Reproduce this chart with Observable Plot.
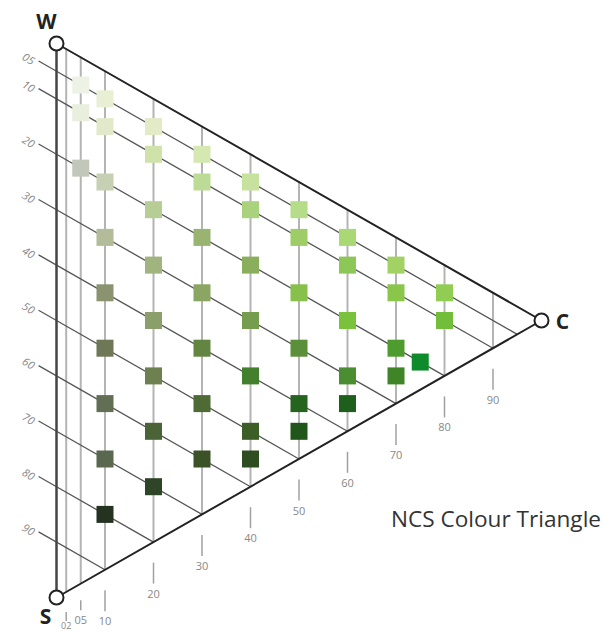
<!DOCTYPE html>
<html>
<head>
<meta charset="utf-8">
<script src="https://cdn.jsdelivr.net/npm/d3@7"></script>
<script src="https://cdn.jsdelivr.net/npm/@observablehq/plot@0.6"></script>
<style>
  html, body { margin: 0; padding: 0; background: #fff; }
  #wrap { position: relative; width: 604px; height: 632px; overflow: hidden; }
  #caption { position: absolute; left: 391px; top: 503px; font-family: "Open Sans", sans-serif; font-size: 22.6px; color: #333; white-space: nowrap; line-height: normal; }
</style>
</head>
<body>
<div id="wrap"><div id="caption">NCS Colour Triangle</div></div>
<script>
// Chromaticness grid lines (vertical) and their labels
const chromaLines = [2, 5, 10, 20, 30, 40, 50, 60, 70, 80, 90];
const chromaLabels = ["02", "05", "10", "20", "30", "40", "50", "60", "70", "80", "90"];
// Blackness grid lines (diagonal) and their labels
const blackLines = [5, 10, 20, 30, 40, 50, 60, 70, 80, 90];
const blackLabels = ["05", "10", "20", "30", "40", "50", "60", "70", "80", "90"];
// Triangle vertices
const vertexNames = ["W", "S", "C"];
const vertexChroma = [0, 0, 100];
const vertexBlack = [0, 100, 0];
// Colour samples: chromaticness, blackness, colour
const swatchChroma = [
  5, 5, 5,
  10, 10, 10, 10, 10, 10, 10, 10, 10,
  20, 20, 20, 20, 20, 20, 20, 20,
  30, 30, 30, 30, 30, 30, 30,
  40, 40, 40, 40, 40, 40, 40,
  50, 50, 50, 50, 50, 50,
  60, 60, 60, 60, 60,
  70, 70, 70, 70,
  75,
  80, 80
];
const swatchBlack = [
  5, 10, 20,
  5, 10, 20, 30, 40, 50, 60, 70, 80,
  5, 10, 20, 30, 40, 50, 60, 70,
  5, 10, 20, 30, 40, 50, 60,
  5, 10, 20, 30, 40, 50, 55,
  5, 10, 20, 30, 40, 45,
  5, 10, 20, 30, 35,
  5, 10, 20, 25,
  20,
  5, 10
];
const swatchColor = [
  "#eef2e4", "#e9eedd", "#c2c7ba",
  "#e9efd3", "#e2e9cb", "#c6d0b2", "#b3bc98", "#8a9270", "#6f7856", "#636f55", "#59684f", "#243220",
  "#e2ebc6", "#cfe2aa", "#b6cd96", "#9fb47e", "#8a9f6a", "#6c814f", "#4b6437", "#2f4527",
  "#d5e8b2", "#bcdb94", "#98b470", "#8aa662", "#628542", "#4e6b35", "#3a5226",
  "#c6e29c", "#aad27c", "#8aaf5c", "#769d4d", "#42802e", "#3c5e27", "#2e4d21",
  "#b5dc88", "#9ecd68", "#88c04c", "#5b8f3a", "#25641f", "#205619",
  "#a9d874", "#8dc758", "#7ac23c", "#4b8d31", "#1e5f1c",
  "#a2d264", "#89c64a", "#4e9c2e", "#3f8427",
  "#0f8b2b",
  "#91cd52", "#72bd3a"
];

// geometry: x = chromaticness, y = blackness + chromaticness/2
const Y_PX = (597 - 43) / 100;
const ty = (c, s) => s + c / 2;

const vertices = vertexNames.map((n, i) => ({name: n, x: vertexChroma[i], y: ty(vertexChroma[i], vertexBlack[i])}));
const edges = [
  [vertices[0], vertices[2]],
  [vertices[1], vertices[2]],
  [vertices[0], vertices[1]]
];

const vLines = chromaLines.map(c => ({x: c, y1: ty(c, 0), y2: ty(c, 100 - c)}));
const bLines = blackLines.map(s => ({x1: -3.7, y1: ty(-3.7, s), x2: 100 - s, y2: ty(100 - s, s)}));
const bLabels = blackLines.map((s, i) => ({x: -5.8, y: ty(-5.8, s) + 4 / Y_PX, label: blackLabels[i]}));

function tickOffsets(c) {
  if (c === 2) return [20.5, 29.5, 34];
  if (c === 5) return [17, 27, 37];
  return [21, 42, 52];
}
const cTicks = chromaLines.map((c, i) => {
  const e = ty(c, 100 - c);
  const [a, b, l] = tickOffsets(c);
  return {x: c, y1: e + a / Y_PX, y2: e + b / Y_PX, ly: e + l / Y_PX, label: chromaLabels[i], size: c === 2 ? 9 : 11};
});

const swatches = swatchChroma.map((c, i) => ({x: c, y: ty(c, swatchBlack[i]), color: swatchColor[i]}));

const vLabelOffsets = {W: [-10, -21], S: [-11, 20], C: [21, 2]};

const chart = Plot.plot({
  width: 604,
  height: 632,
  margin: 0,
  x: {domain: [0, 100], range: [56, 541], axis: null},
  y: {domain: [0, 100], range: [43, 597], axis: null},
  marks: [
    Plot.ruleX(vLines, {x: "x", y1: "y1", y2: "y2", stroke: "#b4b4b4", strokeWidth: 2}),
    Plot.link(bLines, {x1: "x1", y1: "y1", x2: "x2", y2: "y2", stroke: "#555", strokeWidth: 1.3}),
    Plot.ruleX(cTicks, {x: "x", y1: "y1", y2: "y2", stroke: "#a0a0a0", strokeWidth: 1.5}),
    Plot.text(cTicks, {x: "x", y: "ly", text: "label", fill: "#888", fontSize: "size", fontFamily: "Open Sans, sans-serif"}),
    Plot.text(bLabels, {x: "x", y: "y", text: "label", fill: "#888", fontSize: 11, rotate: 32, fontFamily: "Open Sans, sans-serif", fontStyle: "italic"}),
    ...edges.map(([a, b], i) => Plot.line([a, b], {x: "x", y: "y", stroke: i === 2 ? "#444" : "#222", strokeWidth: i === 2 ? 2.5 : 2})),
    Plot.dot(swatches, {x: "x", y: "y", symbol: "square", r: 9.6, fill: "color", stroke: null}),
    Plot.dot(vertices, {x: "x", y: "y", r: 7, fill: "white", stroke: "#222", strokeWidth: 2}),
    ...vertices.map(v => Plot.text([v], {x: "x", y: "y", text: "name", dx: vLabelOffsets[v.name][0], dy: vLabelOffsets[v.name][1], fontSize: 21, fontWeight: "bold", fill: "#222", fontFamily: "Open Sans, sans-serif"}))
  ]
});
document.getElementById("wrap").prepend(chart);
</script>
</body>
</html>
